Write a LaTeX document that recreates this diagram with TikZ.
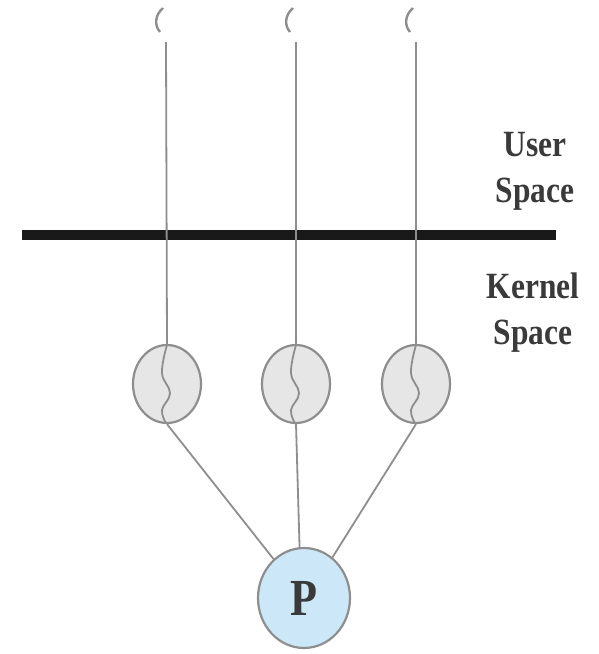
\documentclass[tikz,border=0pt]{standalone}
\usepackage{fontspec}
\setmainfont{Liberation Serif}
\newfontfamily\labelfont[FakeStretch=0.85]{Liberation Serif}
\usetikzlibrary{shapes.geometric}
\definecolor{wire}{HTML}{8E8E8E}
\definecolor{kfill}{HTML}{E6E6E6}
\definecolor{pfill}{HTML}{CCE8F8}
\definecolor{ink}{HTML}{3A3A3A}
\begin{document}
\begin{tikzpicture}[x=1pt,y=-1pt,
  wireline/.style={draw=wire,line width=1.8pt},
  kthread/.style={ellipse,draw=wire,line width=2.2pt,fill=kfill,
    minimum width=68pt,minimum height=78pt,inner sep=0pt},
  proc/.style={ellipse,draw=wire,line width=2.2pt,fill=pfill,
    minimum width=92pt,minimum height=100pt,inner sep=0pt,
    font=\labelfont\fontsize{52}{52}\selectfont\bfseries,text=ink},
  spacelabel/.style={align=center,text=ink,
    font=\labelfont\fontsize{37}{46}\selectfont\bfseries}]
\useasboundingbox (0,0) rectangle (599,654);

% user-level thread tops
\foreach \i/\x in {1/166,2/296,3/416}{
  \coordinate (u\i) at (\x,42);
  \draw[wireline,line width=2.4pt] (\x-3,8) .. controls (\x-11,15) and (\x-12,25) .. (\x-6,32);
}

% kernel threads and the process
\node[kthread] (k1) at (167,384) {};
\node[kthread] (k2) at (296,384) {};
\node[kthread] (k3) at (416,384) {};
\node[proc] (p) at (304,598) {P};

% boundary between user and kernel space
\draw[line width=10pt,draw=black!90] (22,235) -- (556,235);

% thread lines down to kernel threads, with a wavy thread inside each
\foreach \i/\x in {1/167,2/296,3/416}{
  \draw[wireline] (u\i) -- (k\i.north);
  \draw[wireline] plot[smooth,tension=0.7] coordinates
    {(\x,345) (\x-5,373) (\x+3,393) (\x-5,410) (\x-1,423)};
}

% kernel threads mapped onto the process
\draw[wireline] (k1.south) -- (p.128);
\draw[wireline] (k2.south) -- (p.95);
\draw[wireline] (k3.south) -- (p.55);

\node[spacelabel] (us) at (535,171) {User\\Space};
\node[spacelabel] (ks) at (533,313) {Kernel\\Space};
\end{tikzpicture}
\end{document}
